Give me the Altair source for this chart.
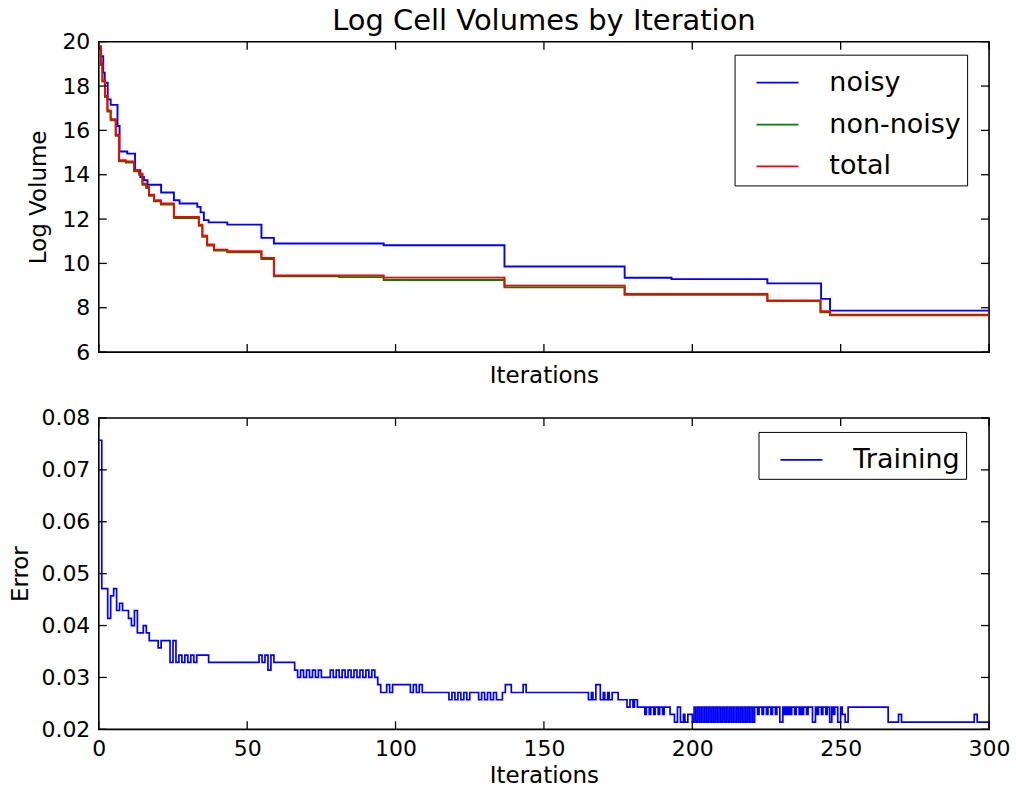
import altair as alt
import pandas as pd

FONT = "DejaVu Sans"

# ---------------- top panel: log cell volumes (step breakpoints) ----------------
series_top = ["noisy", "non-noisy", "total"]
colors_top = ["#0000ff", "#008000", "#ff0000"]

iter_noisy = [0, 0.7, 1.5, 2, 3, 4, 6.3, 7, 9.6, 12.2, 14, 15.2, 16.4, 21, 25.3, 27.2,
              33.2, 34.3, 35.4, 37, 43.3, 54.8, 59, 96, 136.7, 177.2, 193, 225.3,
              243.4, 246.4, 300]
vol_noisy = [19.75, 19.35, 18.6, 18.15, 17.4, 17.15, 16.2, 15.05, 14.95, 14.2, 13.9,
             13.75, 13.55, 13.2, 12.85, 12.7, 12.55, 12.3, 11.95, 11.85, 11.75, 11.15,
             10.9, 10.82, 9.86, 9.35, 9.29, 9.1, 8.4, 7.87, 7.87]

iter_nonnoisy = [0, 0.7, 1.2, 2.1, 2.9, 4.0, 5.7, 6.8, 9.1, 11.9, 13.6, 14.7, 16, 16.9,
                 18.6, 20.9, 25.3, 33.7, 34.9, 36.5, 38.8, 43.3, 54.8, 59, 81, 96,
                 136.7, 177.2, 225.3, 243.2, 246.4, 300]
vol_nonnoisy = [19.75, 18.95, 18.2, 17.5, 16.85, 16.45, 15.75, 14.6, 14.55, 14.15, 14.0,
                13.55, 13.4, 13.05, 12.8, 12.65, 12.05, 11.7, 11.2, 10.8, 10.58, 10.5,
                10.2, 9.42, 9.38, 9.25, 8.92, 8.58, 8.3, 7.8, 7.66, 7.66]

iter_total = [0, 0.7, 1.2, 2.1, 2.9, 4.0, 5.7, 6.8, 9.1, 11.9, 13.6, 14.7, 16, 16.9,
              18.6, 20.9, 25.3, 33.7, 34.9, 36.5, 38.8, 43.3, 54.8, 59, 96, 136.7,
              177.2, 225.3, 243.2, 246.4, 300]
vol_total = [19.8, 19.0, 18.25, 17.55, 16.9, 16.5, 15.8, 14.65, 14.6, 14.2, 14.05, 13.6,
             13.45, 13.1, 12.85, 12.7, 12.1, 11.75, 11.25, 10.85, 10.62, 10.55, 10.25,
             9.46, 9.36, 9.0, 8.62, 8.33, 7.84, 7.69, 7.69]

# ---------------- bottom panel: training error (iteration, error) step breakpoints ----------------
series_bot = ["Training"]
colors_bot = ["#0000ff"]

train_breaks = [
    (0, .0757), (1, .0471), (3, .0414), (4, .0457), (5, .0471), (6, .0429), (7, .0443),
    (8, .0429), (10, .0414), (11, .0400), (12, .0429), (13, .0386), (15, .0400),
    (16, .0386), (17, .0371), (20, .0357), (21, .0371), (24, .0329), (25, .0371),
    (26, .0329), (27, .0343), (28, .0329), (29, .0343), (30, .0329), (31, .0343),
    (32, .0329), (33, .0343), (37, .0329),
    (54, .0343), (55, .0329), (56, .0343), (57, .0314), (58, .0343), (59, .0329),
    (66, .0314), (67, .0300), (68, .0314), (69, .0300), (70, .0314), (71, .0300),
    (72, .0314), (73, .0300), (74, .0314), (75, .0300),
    (78, .0314), (79, .0300), (80, .0314), (81, .0300), (82, .0314), (83, .0300),
    (84, .0314), (85, .0300), (86, .0314), (87, .0300), (88, .0314), (89, .0300),
    (90, .0314), (91, .0300), (92, .0314), (93, .0300),
    (94, .0286), (95, .0271), (97, .0286), (98, .0271), (99, .0286),
    (105, .0271), (106, .0286), (107, .0271), (108, .0286), (109, .0271),
    (118, .0257), (119, .0271), (120, .0257), (121, .0271), (122, .0257), (123, .0271),
    (124, .0257), (125, .0271),
    (128, .0257), (129, .0271), (130, .0257), (131, .0271), (132, .0257), (133, .0271),
    (134, .0257), (136, .0271), (137, .0286), (139, .0271), (143, .0286), (144, .0271),
    (165, .0257), (166, .0271), (166.5, .0257), (167.5, .0286), (169, .0257),
    (170, .0271), (170.5, .0257), (171.5, .0271), (172, .0257), (173, .0271),
    (175, .0257),
    (178, .0243), (179, .0257), (180, .0243), (180.5, .0257), (181.5, .0243),
    (184, .0229), (184.5, .0243), (185.5, .0229), (186, .0243), (187, .0229),
    (187.5, .0243), (188.5, .0229), (189, .0243), (190, .0229), (190.5, .0243),
    (192.5, .0229),
    (194, .0214), (195, .0243), (196, .0214), (197, .0229), (197.5, .0214),
    (198.5, .0229),
    (200, .0214), (200.6, .0243), (201.2, .0214), (201.8, .0243), (202.4, .0214),
    (203, .0243), (203.6, .0214), (204.2, .0243), (204.8, .0214), (205.4, .0243),
    (206, .0214), (206.6, .0243), (207.2, .0214), (207.8, .0243), (208.4, .0214),
    (209, .0243), (209.6, .0214), (210.2, .0243), (210.8, .0214), (211.4, .0243),
    (212, .0214), (212.6, .0243), (213.2, .0214), (213.8, .0243), (214.4, .0214),
    (215, .0243), (215.6, .0214), (216.2, .0243), (216.8, .0214), (217.4, .0243),
    (218, .0214), (218.6, .0243), (219.2, .0214), (219.8, .0243), (220.4, .0214),
    (221, .0243),
    (222, .0229), (222.5, .0243), (223.5, .0229), (224, .0243),
    (225, .0229), (225.5, .0243), (226.5, .0229), (227, .0243), (228, .0229),
    (228.5, .0243), (229.5, .0214), (230.5, .0243),
    (231, .0229), (231.5, .0243), (232, .0229), (232.5, .0243), (233, .0229),
    (233.5, .0243), (234.5, .0229), (235, .0243), (236, .0229), (236.5, .0243),
    (237, .0229), (237.5, .0243), (238.5, .0229), (239, .0243),
    (240.5, .0214), (241.5, .0243), (242, .0229), (242.5, .0243), (243.5, .0229),
    (244, .0243), (245, .0229), (245.5, .0243), (246.3, .0214), (247, .0243),
    (247.5, .0229), (248, .0243), (249, .0214), (250, .0243), (250.5, .0229),
    (251.5, .0214), (252.5, .0243),
    (266, .0214), (269.5, .0229), (270.5, .0214), (295, .0229), (296, .0214),
    (300, .0214),
]
iter_train = [b[0] for b in train_breaks]
err_train = [b[1] for b in train_breaks]

x_ticks = [0, 50, 100, 150, 200, 250, 300]
y_ticks_top = [6, 8, 10, 12, 14, 16, 18, 20]
y_ticks_bot = [0.02, 0.03, 0.04, 0.05, 0.06, 0.07, 0.08]

W, H1, H2 = 892, 311, 312
TICK = 8

top_df = pd.DataFrame({
    "iteration": iter_noisy + iter_nonnoisy + iter_total,
    "log_volume": vol_noisy + vol_nonnoisy + vol_total,
    "series": ["noisy"] * len(iter_noisy) + ["non-noisy"] * len(iter_nonnoisy)
              + ["total"] * len(iter_total),
})
bot_df = pd.DataFrame({
    "iteration": iter_train,
    "error": err_train,
    "series": ["Training"] * len(iter_train),
})

xscale = alt.Scale(domain=[0, 300], nice=False, zero=False)
yscale_top = alt.Scale(domain=[6, 20], nice=False, zero=False)
yscale_bot = alt.Scale(domain=[0.02, 0.08], nice=False, zero=False)

xaxis_top = alt.Axis(title="Iterations", labels=False, values=x_ticks, titlePadding=12)
yaxis_top = alt.Axis(title="Log Volume", values=y_ticks_top, format="d", titlePadding=11)
xaxis_bot = alt.Axis(title="Iterations", values=x_ticks, format="d", titlePadding=5)
yaxis_bot = alt.Axis(title="Error", values=y_ticks_bot, format=".2f", titlePadding=8)


def inward_ticks(yvals, yscale, xaxis, yaxis, H):
    xd = pd.DataFrame({"t": x_ticks})
    yd = pd.DataFrame({"t": yvals})
    rx = alt.Chart(xd).mark_rule(color="black", strokeWidth=1.3)
    ry = alt.Chart(yd).mark_rule(color="black", strokeWidth=1.3)
    xf = alt.X("t:Q", scale=xscale, axis=xaxis)
    yf = alt.Y("t:Q", scale=yscale, axis=yaxis)
    return [
        rx.encode(x=xf, y=alt.value(H - TICK), y2=alt.value(H)),
        rx.encode(x=xf, y=alt.value(0), y2=alt.value(TICK)),
        ry.encode(y=yf, x=alt.value(0), x2=alt.value(TICK)),
        ry.encode(y=yf, x=alt.value(W - TICK), x2=alt.value(W)),
    ]


def legend(x, y):
    return alt.Legend(
        orient="none", legendX=x, legendY=y,
        symbolType="stroke", symbolSize=1764, symbolStrokeWidth=1.8,
        labelFont=FONT, labelFontSize=27, labelColor="black", labelOffset=30,
        padding=6, rowPadding=7, symbolOffset=15,
        strokeColor="black", fillColor="white", cornerRadius=0, labelLimit=400,
    )


top_lines = alt.Chart(top_df).mark_line(interpolate="step-after", strokeWidth=1.9).encode(
    x=alt.X("iteration:Q", scale=xscale, axis=xaxis_top),
    y=alt.Y("log_volume:Q", scale=yscale_top, axis=yaxis_top),
    color=alt.Color("series:N", title=None,
                    scale=alt.Scale(domain=series_top, range=colors_top),
                    legend=legend(637, 13)),
)

top = alt.layer(top_lines, *inward_ticks(y_ticks_top, yscale_top, xaxis_top, yaxis_top, H1)).properties(
    width=W, height=H1,
    title=alt.Title("Log Cell Volumes by Iteration", fontSize=29, font=FONT,
                    fontWeight="normal", color="black", anchor="middle",
                    frame="group", offset=-5),
)

bot_lines = alt.Chart(bot_df).mark_line(interpolate="step-after", strokeWidth=1.7).encode(
    x=alt.X("iteration:Q", scale=xscale, axis=xaxis_bot),
    y=alt.Y("error:Q", scale=yscale_bot, axis=yaxis_bot),
    color=alt.Color("series:N", title=None,
                    scale=alt.Scale(domain=series_bot, range=colors_bot),
                    legend=legend(661, 14)),
)

bottom = alt.layer(bot_lines, *inward_ticks(y_ticks_bot, yscale_bot, xaxis_bot, yaxis_bot, H2)).properties(
    width=W, height=H2,
)

chart = (
    alt.vconcat(top, bottom, spacing=18)
    .resolve_scale(color="independent")
    .configure(padding={"left": 9, "top": 5, "right": 5, "bottom": 5}, background="white")
    .configure_view(stroke="black", strokeWidth=1.6)
    .configure_axis(
        labelFont=FONT, labelFontSize=22, labelColor="black", labelPadding=9,
        titleFont=FONT, titleFontSize=23, titleFontWeight="normal", titleColor="black",
        ticks=False, tickSize=0, domain=False, grid=False,
        labelFlush=False, labelOverlap=False,
    )
)

chart.save("out.html", embed_options={"renderer": "svg", "actions": False})
